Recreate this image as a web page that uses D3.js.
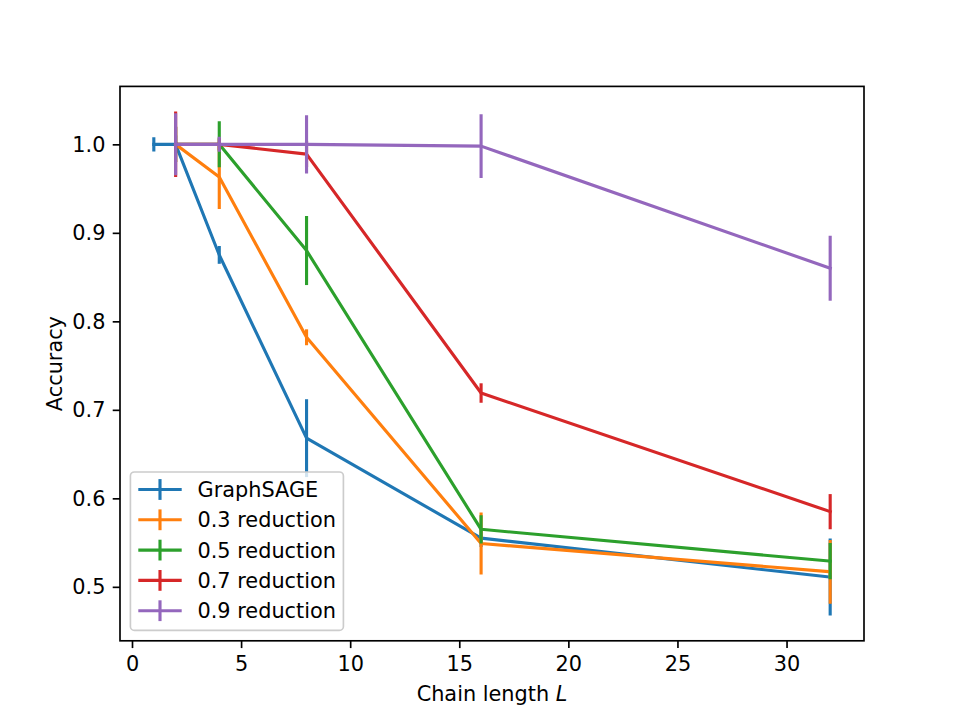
<!DOCTYPE html>
<html>
<head>
<meta charset="utf-8">
<script src="https://cdn.jsdelivr.net/npm/d3@7"></script>
<style>
body { margin: 0; background: #fff; }
svg { display: block; font-family: "DejaVu Sans", sans-serif; }
</style>
</head>
<body>
<svg id="chart" width="960" height="720"></svg>
<script>
// ---- data ----
const seriesNames = ["GraphSAGE", "0.3 reduction", "0.5 reduction", "0.7 reduction", "0.9 reduction"];
const seriesColors = ["#1f77b4", "#ff7f0e", "#2ca02c", "#d62728", "#9467bd"];
const xGraphSAGE = [1, 2, 4, 8, 16, 32];
const xReduction = [2, 4, 8, 16, 32];
const graphsage = [1.0, 1.0, 0.875, 0.668, 0.555, 0.511];
const graphsageErr = [0.008, 0.01, 0.01, 0.044, 0.01, 0.0435];
const red03 = [1.0, 0.963, 0.782, 0.549, 0.517];
const red03Err = [0.02, 0.036, 0.009, 0.035, 0.036];
const red05 = [1.0, 1.0, 0.880, 0.565, 0.529];
const red05Err = [0.02, 0.026, 0.039, 0.016, 0.0205];
const red07 = [1.0, 1.0, 0.989, 0.719, 0.585];
const red07Err = [0.037, 0.007, 0.015, 0.011, 0.0198];
const red09 = [1.0, 1.0, 1.0, 0.998, 0.860];
const red09Err = [0.035, 0.0085, 0.033, 0.036, 0.0367];
const xTicks = [0, 5, 10, 15, 20, 25, 30];
const yTicks = [0.5, 0.6, 0.7, 0.8, 0.9, 1.0];

const allSeries = [
  { x: xGraphSAGE, y: graphsage, e: graphsageErr },
  { x: xReduction, y: red03, e: red03Err },
  { x: xReduction, y: red05, e: red05Err },
  { x: xReduction, y: red07, e: red07Err },
  { x: xReduction, y: red09, e: red09Err }
].map((s, i) => ({ ...s, name: seriesNames[i], color: seriesColors[i],
  pts: s.x.map((xv, j) => ({ x: xv, y: s.y[j], e: s.e[j] })) }));

// ---- layout ----
const W = 960, H = 720;
const L = 120, R = 864, T = 86.4, B = 640.8;
const fs = 20.83;
const lw = 3.125;

// domains with matplotlib-like 5% margins
const allX = allSeries.flatMap(s => s.x);
const allYlo = allSeries.flatMap(s => s.pts.map(p => p.y - p.e));
const allYhi = allSeries.flatMap(s => s.pts.map(p => p.y + p.e));
const x0 = d3.min(allX), x1 = d3.max(allX);
const y0 = d3.min(allYlo), y1 = d3.max(allYhi);
const mx = (x1 - x0) * 0.05, my = (y1 - y0) * 0.05;

const x = d3.scaleLinear().domain([x0 - mx, x1 + mx]).range([L, R]);
const y = d3.scaleLinear().domain([y0 - my, y1 + my]).range([B, T]);

const svg = d3.select("#chart");
svg.append("rect").attr("width", W).attr("height", H).attr("fill", "#fff");

const clipId = "plotclip";
svg.append("clipPath").attr("id", clipId).append("rect")
  .attr("x", L).attr("y", T).attr("width", R - L).attr("height", B - T);

const plot = svg.append("g").attr("clip-path", `url(#${clipId})`);

const line = d3.line().x(d => x(d.x)).y(d => y(d.y));

allSeries.forEach(s => {
  const g = plot.append("g");
  g.append("path").datum(s.pts).attr("d", line)
    .attr("fill", "none").attr("stroke", s.color).attr("stroke-width", lw)
    .attr("stroke-linejoin", "round").attr("stroke-linecap", "square");
  g.selectAll("line.err").data(s.pts).enter().append("line")
    .attr("x1", d => x(d.x)).attr("x2", d => x(d.x))
    .attr("y1", d => y(d.y - d.e)).attr("y2", d => y(d.y + d.e))
    .attr("stroke", s.color).attr("stroke-width", lw);
});

// ---- axes ----
const tickLen = 7.29;
const xAxis = d3.axisBottom(x).tickValues(xTicks).tickFormat(d3.format("d"))
  .tickSize(tickLen).tickPadding(7.29);
const yAxis = d3.axisLeft(y).tickValues(yTicks).tickFormat(d3.format(".1f"))
  .tickSize(tickLen).tickPadding(7.29);

const gx = svg.append("g").attr("transform", `translate(0,${B})`).call(xAxis);
const gy = svg.append("g").attr("transform", `translate(${L},0)`).call(yAxis);
[gx, gy].forEach(g => {
  g.select(".domain").remove();
  g.selectAll(".tick line").attr("stroke", "#000").attr("stroke-width", 1.67);
  g.selectAll(".tick text").attr("fill", "#000").attr("font-size", fs)
    .attr("font-family", "DejaVu Sans, sans-serif");
});
gx.selectAll(".tick text").attr("dy", "0.76em");
gy.selectAll(".tick text").attr("dy", "0.34em");

// spines
svg.append("rect").attr("x", L).attr("y", T).attr("width", R - L).attr("height", B - T)
  .attr("fill", "none").attr("stroke", "#000").attr("stroke-width", 1.67);

// axis labels
const xl = svg.append("text").attr("x", (L + R) / 2).attr("y", 701)
  .attr("text-anchor", "middle").attr("font-size", fs).attr("fill", "#000");
xl.append("tspan").text("Chain length ");
xl.append("tspan").attr("font-style", "italic").text("L");

svg.append("text")
  .attr("transform", `translate(62,${(T + B) / 2}) rotate(-90)`)
  .attr("text-anchor", "middle").attr("font-size", fs).attr("fill", "#000")
  .text("Accuracy");

// ---- legend ----
const lgX = 130.4, lgY = 472, lgW = 213, lgH = 158.4;
const leg = svg.append("g");
leg.append("rect").attr("x", lgX).attr("y", lgY).attr("width", lgW).attr("height", lgH)
  .attr("rx", 4).attr("ry", 4)
  .attr("fill", "#fff").attr("fill-opacity", 0.8)
  .attr("stroke", "#cccccc").attr("stroke-width", 1.67);
const rowY0 = 489.5, rowStep = 30.3;
allSeries.forEach((s, i) => {
  const cy = rowY0 + i * rowStep;
  leg.append("line").attr("x1", 138.3).attr("x2", 181.7).attr("y1", cy).attr("y2", cy)
    .attr("stroke", s.color).attr("stroke-width", lw);
  leg.append("line").attr("x1", 160).attr("x2", 160).attr("y1", cy - 10.4).attr("y2", cy + 10.4)
    .attr("stroke", s.color).attr("stroke-width", lw);
  leg.append("text").attr("x", 197.5).attr("y", cy).attr("dy", "0.36em")
    .attr("font-size", fs).attr("fill", "#000").text(s.name);
});
</script>
</body>
</html>
